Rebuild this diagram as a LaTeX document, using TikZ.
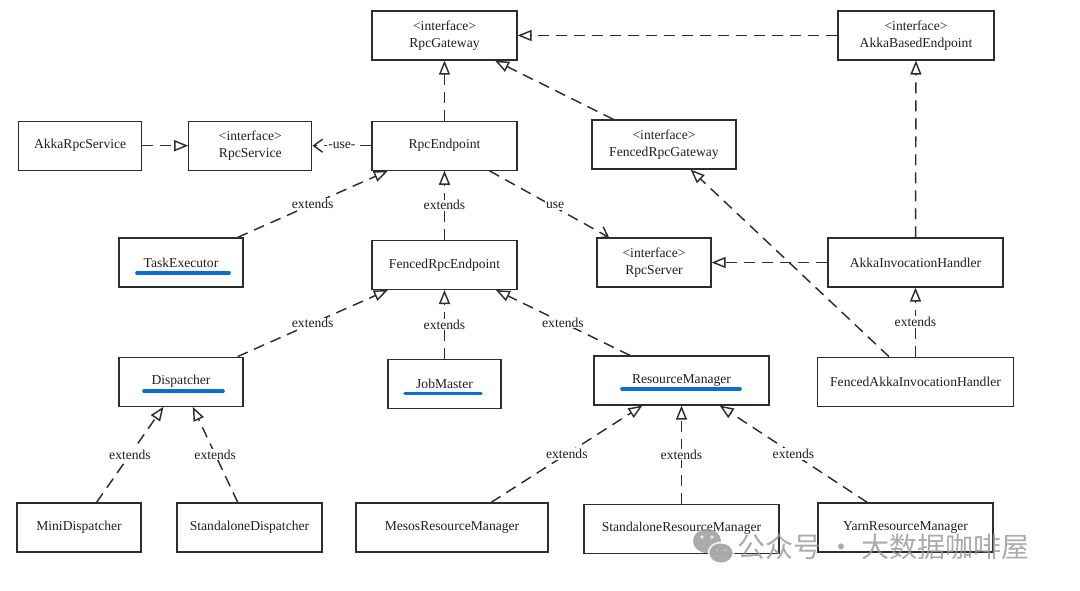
\documentclass[tikz,border=0pt]{standalone}
\usepackage{fontspec}
\setmainfont{Liberation Serif}
\newfontfamily\cjkfont{Noto Sans CJK SC}
\usetikzlibrary{arrows.meta, positioning}
\definecolor{linegray}{RGB}{45,45,45}
\definecolor{hlblue}{RGB}{10,110,210}
\definecolor{wmgray}{RGB}{150,150,150}

\begin{document}
\begin{tikzpicture}[
  x=1pt, y=1pt,
  box/.style={rectangle, draw=linegray, line width=1.2pt, align=center, minimum height=49pt, inner sep=2pt, text=black!88, font=\fontsize{13.6}{17}\selectfont},
  ext/.style={draw=linegray, line width=1.45pt, dash pattern=on 11pt off 7pt, -{Triangle[open, length=14pt, width=11pt]}},
  dep/.style={draw=linegray, line width=1.45pt, dash pattern=on 11pt off 7pt, -{Straight Barb[length=9pt, width=13pt]}},
  lbl/.style={fill=white, inner sep=1pt, text=black!88, font=\fontsize{13.6}{16}\selectfont},
  hl/.style={draw=hlblue, line width=3.6pt, line cap=round}
]
\useasboundingbox (0,0) rectangle (1080,-591);

\node[box, minimum width=145pt] (rpcgw) at (444.5,-35.5) {<interface>\\RpcGateway};
\node[box, minimum width=156pt] (akkabased) at (916,-35.5) {<interface>\\AkkaBasedEndpoint};
\node[box, minimum width=145pt, below=60pt of rpcgw] (rpcendpoint) {RpcEndpoint};
\node[box, minimum width=123pt, left=59pt of rpcendpoint] (rpcservice) {<interface>\\RpcService};
\node[box, minimum width=123pt, left=46pt of rpcservice] (akkarpcservice) {AkkaRpcService};
\node[box, minimum width=144pt] (fencedgw) at (664,-144.5) {<interface>\\FencedRpcGateway};

\node[box, minimum width=124pt] (taskexec) at (181,-262.5) {TaskExecutor};
\node[box, minimum width=145pt, below=69pt of rpcendpoint] (fencedendpoint) {FencedRpcEndpoint};
\node[box, minimum width=114pt] (rpcserver) at (654,-262.5) {<interface>\\RpcServer};
\node[box, minimum width=175pt] (akkainvoc) at (915.5,-262.5) {AkkaInvocationHandler};

\node[box, minimum width=124pt, below=69pt of taskexec] (dispatcher) {Dispatcher};
\node[box, minimum width=113pt, below=69pt of fencedendpoint] (jobmaster) {JobMaster};
\node[box, minimum width=175pt] (resmgr) at (681.5,-380.5) {ResourceManager};
\node[box, minimum width=196pt, below=69pt of akkainvoc] (fencedakka) {FencedAkkaInvocationHandler};

\node[box, minimum width=124pt] (minidisp) at (79,-527.5) {MiniDispatcher};
\node[box, minimum width=145pt] (standalonedisp) at (249.5,-527.5) {StandaloneDispatcher};
\node[box, minimum width=192pt] (mesos) at (452,-527.5) {MesosResourceManager};
\node[box, minimum width=195pt, below=98pt of resmgr] (standalonerm) {StandaloneResourceManager};
\node[box, minimum width=175pt] (yarn) at (905.5,-527.5) {YarnResourceManager};

\draw[hl] ([xshift=-44pt, yshift=-10.5pt]taskexec.center) -- ([xshift=48pt, yshift=-10.5pt]taskexec.center);
\draw[hl] ([xshift=-37pt, yshift=-9.5pt]dispatcher.center) -- ([xshift=42pt, yshift=-9.5pt]dispatcher.center);
\draw[hl] ([xshift=-39.5pt, yshift=-9.5pt]jobmaster.center) -- ([xshift=36.5pt, yshift=-9.5pt]jobmaster.center);
\draw[hl] ([xshift=-59.5pt, yshift=-8.5pt]resmgr.center) -- ([xshift=58.5pt, yshift=-8.5pt]resmgr.center);

\draw[ext] (akkabased) -- (rpcgw);
\draw[ext] (rpcendpoint) -- (rpcgw);
\draw[ext] (fencedgw) -- (rpcgw);
\draw[ext] (akkarpcservice) -- (rpcservice);
\draw[dep] (rpcendpoint) -- node[lbl] {-use-} (rpcservice);
\draw[dep] (rpcendpoint) -- node[lbl, pos=0.55, yshift=2pt] {use} (rpcserver);
\draw[ext] (taskexec) -- node[lbl] {extends} (rpcendpoint);
\draw[ext] (fencedendpoint) -- node[lbl] {extends} (rpcendpoint);
\draw[ext] (akkainvoc) -- (rpcserver);
\draw[ext] (akkainvoc) -- (akkabased);
\draw[ext] (fencedakka) -- (fencedgw);
\draw[ext] (fencedakka) -- node[lbl] {extends} (akkainvoc);
\draw[ext] (dispatcher) -- node[lbl] {extends} (fencedendpoint);
\draw[ext] (jobmaster) -- node[lbl] {extends} (fencedendpoint);
\draw[ext] (resmgr) -- node[lbl] {extends} (fencedendpoint);
\draw[ext] (minidisp) -- node[lbl] {extends} (dispatcher);
\draw[ext] (standalonedisp) -- node[lbl] {extends} (dispatcher);
\draw[ext] (mesos) -- node[lbl] {extends} (resmgr);
\draw[ext] (standalonerm) -- node[lbl] {extends} (resmgr);
\draw[ext] (yarn) -- node[lbl] {extends} (resmgr);

\begin{scope}[opacity=0.8]
\fill[wmgray] (707,-541) ellipse (14pt and 12pt);
\fill[white] (721,-553) ellipse (13.5pt and 11.5pt);
\fill[wmgray] (721,-553) ellipse (11.5pt and 9.5pt);
\fill[white] (702,-537) circle (1.8pt) (712,-537) circle (1.8pt);
\fill[wmgray!60] (717,-550) circle (1.5pt) (725,-550) circle (1.5pt);
\node[anchor=west, inner sep=0pt, text=wmgray, font=\cjkfont\fontsize{28}{28}\selectfont] (watermark) at (737,-547) {公众号 · 大数据咖啡屋};
\end{scope}
\end{tikzpicture}
\end{document}
